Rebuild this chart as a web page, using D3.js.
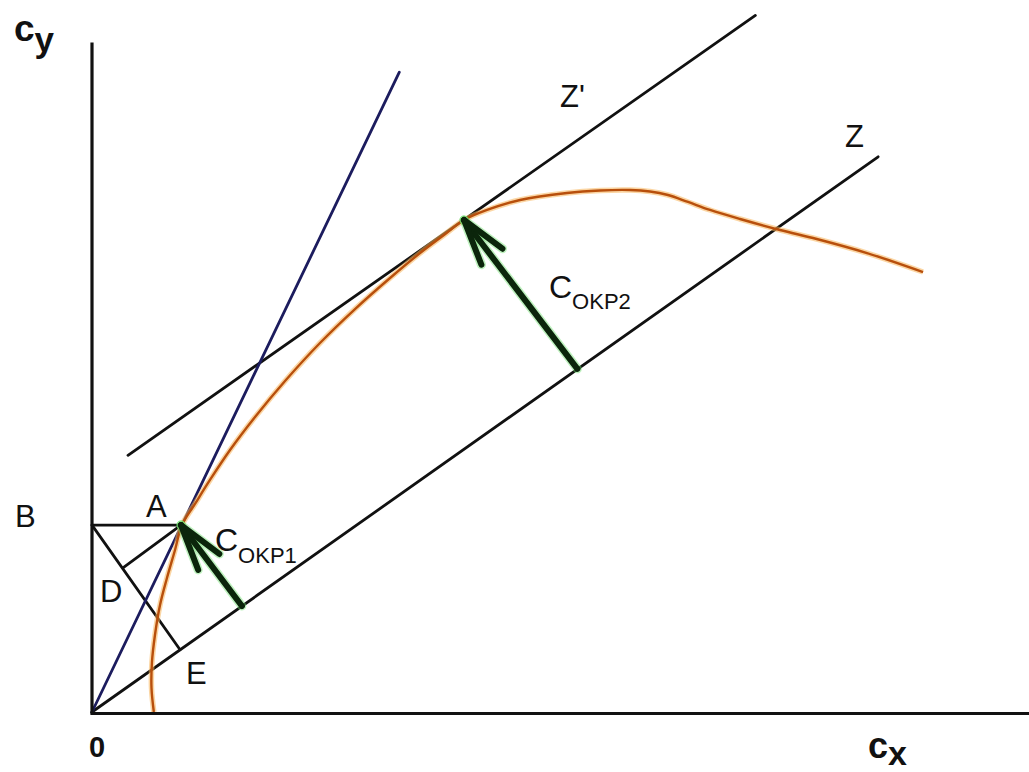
<!DOCTYPE html>
<html>
<head>
<meta charset="utf-8">
<script src="https://cdn.jsdelivr.net/npm/d3@7"></script>
<style>
  html, body { margin: 0; padding: 0; background: #fff; }
  svg { display: block; }
  text { font-family: "Liberation Sans", Arial, sans-serif; fill: #111; }
</style>
</head>
<body>
<svg id="chart" width="1029" height="772"></svg>
<script>
// Phase diagram in the (cx, cy) plane, arbitrary units.

// Response curve (orange)
const curveX = [6.6, 6.35, 6.4, 6.72, 7.26, 8.0, 8.86, 9.6, 10.99, 12.59, 14.73, 17.4, 20.6, 24.33, 28.07, 31.81, 35.01, 37.7, 39.7, 42.16, 45.68, 50.69, 54.22, 57.42, 59.55, 61.47, 63.61, 65.96, 69.16, 73.43, 77.35, 82.71, 88.69];
const curveY = [0, 2.58, 5.38, 8.28, 11.51, 14.41, 17.42, 20.1, 22.37, 24.95, 28.17, 31.72, 35.59, 39.68, 43.33, 46.67, 49.35, 51.4, 52.9, 53.98, 55.05, 55.81, 56.08, 56.13, 55.97, 55.59, 54.84, 53.98, 53.01, 51.83, 50.86, 49.35, 47.31];

// Straight lines: [x0, y0, x1, y1]
const lineZ      = [0, 0, 83.9, 59.7];
const lineZprime = [3.84, 27.6, 70.8, 74.9];
const rayOA      = [0, 0, 32.8, 68.8];

// Construction points
const ptA = [9.5, 20.1];
const ptB = [0, 20.1];
const ptE = [9.4, 6.7];
const ptD = [3.3, 15.5];

// Arrows from line Z to the curve: [baseX, baseY, tipX, tipY]
const arrowOKP1 = [16.0, 11.4, 9.5, 20.1];
const arrowOKP2 = [51.8, 36.9, 39.7, 52.9];

// Axis extents
const xDomain = [0, 100];
const yDomain = [0, 72];

const svg = d3.select("#chart");
const x = d3.scaleLinear().domain(xDomain).range([92, 1029]);
const y = d3.scaleLinear().domain(yDomain).range([712, 42.4]);

const seg = (s, color, w) => svg.append("line")
  .attr("x1", x(s[0])).attr("y1", y(s[1]))
  .attr("x2", x(s[2])).attr("y2", y(s[3]))
  .attr("stroke", color).attr("stroke-width", w)
  .attr("stroke-linecap", "round");

// Construction lines near the origin
seg([ptB[0], ptB[1], ptA[0], ptA[1]], "#111", 2.8);
seg([ptB[0], ptB[1], ptE[0], ptE[1]], "#111", 2.8);
seg([ptD[0], ptD[1], ptA[0], ptA[1]], "#111", 2.8);

// Lines Z, Z' and ray OA
seg(lineZ, "#111", 2.8);
seg(lineZprime, "#111", 2.8);
seg(rayOA, "#1c1c5e", 2.8);

// Orange response curve
const curvePts = curveX.map((v, i) => [v, curveY[i]]);
const lineGen = d3.line().x(d => x(d[0])).y(d => y(d[1])).curve(d3.curveCatmullRom.alpha(0.5));
svg.append("path").attr("d", lineGen(curvePts))
  .attr("fill", "none").attr("stroke", "#f7b45a").attr("stroke-width", 5.5).attr("opacity", 0.55);
svg.append("path").attr("d", lineGen(curvePts))
  .attr("fill", "none").attr("stroke", "#b84f0c").attr("stroke-width", 2.4);

// Arrows
function arrow(a) {
  const bx = x(a[0]), by = y(a[1]), tx = x(a[2]), ty = y(a[3]);
  const ang = Math.atan2(by - ty, bx - tx);
  const len = 48, spread = 16 * Math.PI / 180;
  const arms = [ang - spread, ang + spread].map(t => [tx + len * Math.cos(t), ty + len * Math.sin(t)]);
  const g = svg.append("g").attr("fill", "none").attr("stroke-linecap", "round");
  const draw = (color, w, op) => {
    g.append("line").attr("x1", bx).attr("y1", by).attr("x2", tx).attr("y2", ty)
      .attr("stroke", color).attr("stroke-width", w).attr("opacity", op);
    arms.forEach(p => g.append("line").attr("x1", tx).attr("y1", ty).attr("x2", p[0]).attr("y2", p[1])
      .attr("stroke", color).attr("stroke-width", w).attr("opacity", op));
  };
  draw("#6fe06f", 9, 0.45);
  draw("#0b250b", 6, 1);
}
arrow(arrowOKP1);
arrow(arrowOKP2);

// Axes
svg.append("line").attr("x1", x(0)).attr("y1", y(0) + 1.5).attr("x2", x(0)).attr("y2", y(yDomain[1]))
  .attr("stroke", "#111").attr("stroke-width", 3.2);
svg.append("line").attr("x1", x(0) - 1.6).attr("y1", y(0) + 1.5).attr("x2", x(xDomain[1])).attr("y2", y(0) + 1.5)
  .attr("stroke", "#111").attr("stroke-width", 3.2);

// Labels
const label = (tx, ty, str, size, weight) => svg.append("text")
  .attr("x", tx).attr("y", ty).attr("font-size", size).attr("font-weight", weight || "normal").text(str);

label(15, 527, "B", 31);
label(146, 517, "A", 31);
label(100, 602, "D", 31);
label(186, 684, "E", 31);
label(560, 107, "Z'", 31);
label(845, 147, "Z", 31);
label(89, 757, "0", 29, "bold");

// Subscripted labels
function subLabel(tx, ty, main, sub, mainSize, subSize, shift, weight) {
  const t = svg.append("text").attr("x", tx).attr("y", ty).attr("font-weight", weight || "normal");
  t.append("tspan").attr("font-size", mainSize).text(main);
  t.append("tspan").attr("font-size", subSize).attr("dy", shift).text(sub);
}
subLabel(215, 551, "C", "OKP1", 32, 22, 12);
subLabel(549, 298, "C", "OKP2", 32, 22, 11);
subLabel(14, 41, "c", "y", 37, 35, 11, "bold");
subLabel(868, 758, "c", "x", 36, 34, 7, "bold");
</script>
</body>
</html>
